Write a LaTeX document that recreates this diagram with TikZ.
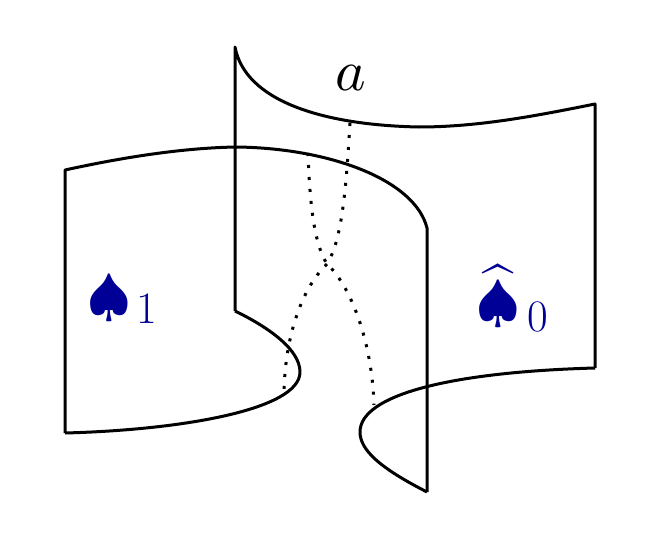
\documentclass[tikz,border=0pt]{standalone}
\usepackage{amsmath}
\usepackage{graphicx}
\definecolor{spadeblue}{RGB}{0,0,150}
\tikzset{
  edge/.style={line width=3pt, line join=round},
  dots/.style={line width=3pt, dash pattern=on 3pt off 9pt},
  big/.style={inner sep=0pt, outer sep=0pt},
  sub/.style={inner sep=0pt, outer sep=0pt, font=\fontsize{45}{50}\selectfont},
}
\begin{document}
\begin{tikzpicture}[x=1pt,y=-1pt]
\useasboundingbox (0,0) rectangle (667,538);
% sheet A (front-left)
\draw[edge] (65,433) -- (65,170)
  .. controls (120,158) and (180,148) .. (236,147)
  .. controls (330,148) and (415,180) .. (427,228)
  -- (427,492);
% sheet B (back-right)
\draw[edge] (235,311) -- (235,47)
  .. controls (245,100) and (320,125) .. (419,127)
  .. controls (480,127) and (540,115) .. (595,104)
  -- (595,368);
% bottom curve 1
\draw[edge] (235,311)
  .. controls (270,328) and (300,350) .. (300,372)
  .. controls (300,410) and (180,430) .. (65,433);
% bottom curve 2
\draw[edge] (427,492)
  .. controls (380,468) and (360,450) .. (360,432)
  .. controls (360,395) and (450,372) .. (595,368);
% dotted curves
\coordinate (c) at (327,264);
\draw[dots] (308,153) .. controls (310,210) and (315,245) .. (c)
  .. controls (350,285) and (372,340) .. (374,405);
\draw[dots] (350,123) .. controls (346,190) and (342,240) .. (c)
  .. controls (300,290) and (285,340) .. (284,392);
% labels
\node[big, anchor=base] (alab) at (351,90) {\scalebox{5.8}{$a$}};
\node[big, anchor=base west, text=spadeblue] (s1) at (87,314) {\scalebox{5.6}{$\spadesuit$}};
\node[sub, anchor=base west, text=spadeblue] (n1) at (136,323) {1};
\node[big, anchor=base west, text=spadeblue] (s0) at (476,320) {\scalebox{5.6}{$\widehat{\spadesuit}$}};
\node[sub, anchor=base west, text=spadeblue] (n0) at (527,331) {0};
\end{tikzpicture}
\end{document}
